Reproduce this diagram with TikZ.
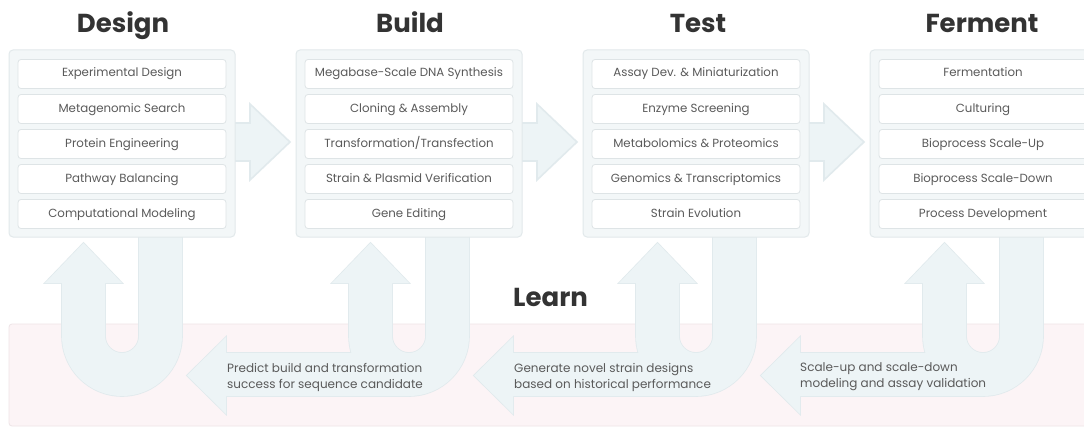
\documentclass[tikz,border=0pt]{standalone}
\usepackage{fontspec}
\setmainfont{Poppins}
\definecolor{panelfill}{HTML}{F3F7F8}
\definecolor{panelborder}{HTML}{E2E9EB}
\definecolor{arrowfill}{HTML}{EDF4F6}
\definecolor{arrowborder}{HTML}{E1EAED}
\definecolor{boxborder}{HTML}{DEE4E6}
\definecolor{pinkfill}{HTML}{FCF4F6}
\definecolor{pinkborder}{HTML}{EEE4E7}
\definecolor{txtgray}{HTML}{5A5A5A}
\definecolor{titlegray}{HTML}{333333}
\newcommand\UPath[1]{({#1+60},230) -- ({#1+60},336) arc[start angle=0,end angle=180,radius=60] -- ({#1-60},283) -- ({#1-77},283) -- ({#1-38.5},243) -- ({#1},283) -- ({#1-17},283) -- ({#1-17},336) arc[start angle=180,end angle=0,radius=17] -- ({#1+17},230) -- cycle}
\newcommand\LPath[2]{({#1},375.5) -- ({#1+39},337) -- ({#1+39},353) -- ({#2},353) -- ({#2},396) -- ({#1+39},396) -- ({#1+39},414) -- cycle}
\newcommand\RPath[1]{({#1-30},123) -- ({#1},123) -- ({#1},104) -- ({#1+40},142) -- ({#1},180) -- ({#1},161) -- ({#1-30},161) -- cycle}
\begin{document}
\begin{tikzpicture}[x=1pt,y=-1pt,
  panel/.style={fill=panelfill, draw=panelborder, line width=1pt, rounded corners=4pt, minimum width=226pt, minimum height=187pt, inner sep=0pt},
  itembox/.style={fill=white, draw=boxborder, line width=0.8pt, rounded corners=3pt, minimum width=208pt, minimum height=29pt, inner sep=0pt, text height=8.6pt, text depth=2.6pt, font=\fontsize{11.8}{13}\selectfont, text=txtgray},
  stagetitle/.style={font=\fontsize{26}{30}\selectfont\bfseries, text=titlegray, anchor=base, inner sep=0pt},
  learntext/.style={font=\fontsize{12}{16}\selectfont, text=txtgray, align=left, anchor=west, inner sep=0pt},
  flowedge/.style={draw=arrowborder, line width=1.6pt, fill=arrowfill},
  flowfill/.style={fill=arrowfill},
]
\useasboundingbox (0,0) rectangle (1084,428);
\fill[white] (0,0) rectangle (1084,428);
\clip (0,0) rectangle (1084,428);
% Learn band
\draw[fill=pinkfill, draw=pinkborder, line width=0.8pt, rounded corners=3pt] (9,324) rectangle (1100,426);
% U-turns and left arrows (outline pass, then fill pass)
\foreach \u in {122,409,696,983} { \path[flowedge] \UPath{\u}; }
\path[flowedge] \LPath{187}{409};
\path[flowedge] \LPath{474}{696};
\path[flowedge] \LPath{761}{983};
\foreach \u in {122,409,696,983} { \path[flowfill] \UPath{\u}; }
\path[flowfill] \LPath{187}{409};
\path[flowfill] \LPath{474}{696};
\path[flowfill] \LPath{761}{983};
% right arrows between stages
\foreach \b in {250,537,824} { \path[flowedge] \RPath{\b}; }
% panels
\node[panel] (pD) at (122,143.5) {};
\node[panel] (pB) at (409,143.5) {};
\node[panel] (pT) at (696,143.5) {};
\node[panel] (pF) at (983,143.5) {};
% titles
\node[stagetitle] (tD) at (123,33) {Design};
\node[stagetitle] (tB) at (410,33) {Build};
\node[stagetitle] (tT) at (698,33) {Test};
\node[stagetitle] (tF) at (982,33) {Ferment};
\node[stagetitle, anchor=base west] (tL) at (513,306) {Learn};
% items
\node[itembox] (d1) at (122,74) {Experimental Design};
\node[itembox] (d2) at (122,109) {Metagenomic Search};
\node[itembox] (d3) at (122,144) {Protein Engineering};
\node[itembox] (d4) at (122,179) {Pathway Balancing};
\node[itembox] (d5) at (122,214) {Computational Modeling};
\node[itembox] (b1) at (409,74) {Megabase-Scale DNA Synthesis};
\node[itembox] (b2) at (409,109) {Cloning \& Assembly};
\node[itembox] (b3) at (409,144) {Transformation/Transfection};
\node[itembox] (b4) at (409,179) {Strain \& Plasmid Verification};
\node[itembox] (b5) at (409,214) {Gene Editing};
\node[itembox] (e1) at (696,74) {Assay Dev. \& Miniaturization};
\node[itembox] (e2) at (696,109) {Enzyme Screening};
\node[itembox] (e3) at (696,144) {Metabolomics \& Proteomics};
\node[itembox] (e4) at (696,179) {Genomics \& Transcriptomics};
\node[itembox] (e5) at (696,214) {Strain Evolution};
\node[itembox] (f1) at (983,74) {Fermentation};
\node[itembox] (f2) at (983,109) {Culturing};
\node[itembox] (f3) at (983,144) {Bioprocess Scale-Up};
\node[itembox] (f4) at (983,179) {Bioprocess Scale-Down};
\node[itembox] (f5) at (983,214) {Process Development};
% learn texts
\node[learntext] (l1) at (227,377) {Predict build and transformation\\success for sequence candidate};
\node[learntext] (l2) at (514,377) {Generate novel strain designs\\based on historical performance};
\node[learntext] (l3) at (800,377) {Scale-up and scale-down\\modeling and assay validation};
\end{tikzpicture}
\end{document}
